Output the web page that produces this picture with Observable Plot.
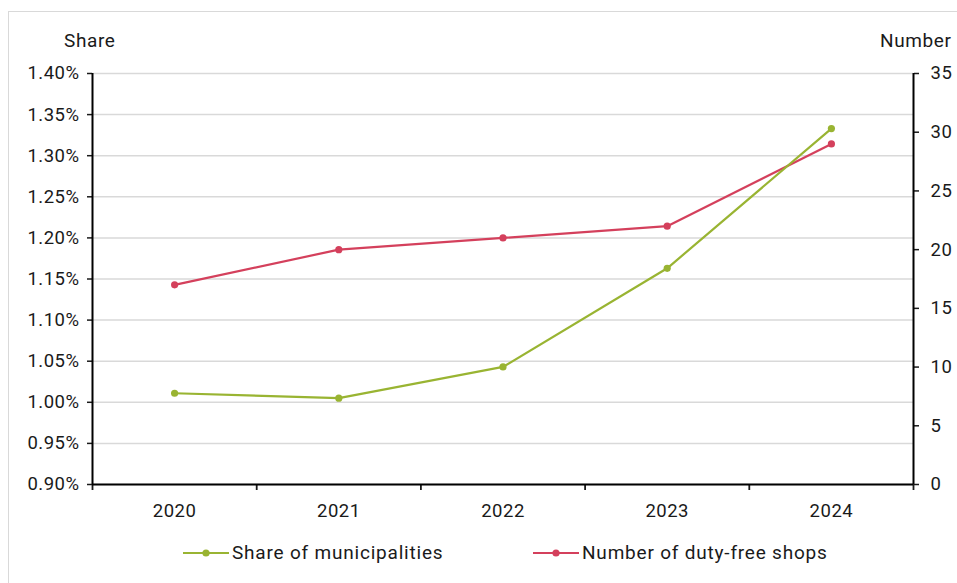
<!DOCTYPE html>
<html><head><meta charset="utf-8">
<script src="https://cdn.jsdelivr.net/npm/d3@7"></script>
<script src="https://cdn.jsdelivr.net/npm/@observablehq/plot@0.6"></script>
<style>
body{margin:0;background:#fff;font-family:Roboto,"Noto Sans",sans-serif;}
#wrap{position:relative;width:957px;height:583px;overflow:hidden;}
#frame{position:absolute;left:8px;top:11px;width:1000px;height:700px;border:1px solid #d9d9d9;box-sizing:border-box;}
#chart{position:absolute;left:0;top:0;}
.lab{position:absolute;top:29px;font-size:19px;letter-spacing:0.6px;color:#1a1a1a;}
#legend{position:absolute;top:541px;left:0;width:957px;height:24px;font-size:19px;letter-spacing:0.8px;color:#1a1a1a;}
.item{position:absolute;display:flex;align-items:center;}
svg text{letter-spacing:0.5px;}
</style></head>
<body><div id="wrap"><div id="frame"></div><div id="chart"></div>
<div class="lab" style="left:64px">Share</div>
<div class="lab" style="left:880px">Number</div>
<div id="legend"></div></div>
<script>
const years = [2020, 2021, 2022, 2023, 2024];
const shareValues = [1.011, 1.005, 1.043, 1.163, 1.333]; // percent
const shopCounts = [17, 20, 21, 22, 29];
const leftTicks = [0.90,0.95,1.00,1.05,1.10,1.15,1.20,1.25,1.30,1.35,1.40];
const rightTicks = [0,5,10,15,20,25,30,35];
const seriesNames = ["Share of municipalities", "Number of duty-free shops"];
const colors = ["#99b432", "#d4405c"];

const yMin = 0.90, yMax = 1.40, nMax = 35;
const toLeft = n => yMin + n / nMax * (yMax - yMin);

const shareData = years.map((y,i)=>({year:y, v:shareValues[i]}));
const shopData = years.map((y,i)=>({year:y, v:toLeft(shopCounts[i])}));
const bounds = [...years.map(y=>y-0.5), years[years.length-1]+0.5];

const chart = Plot.plot({
  width: 957, height: 522,
  marginTop: 73, marginLeft: 92, marginRight: 44, marginBottom: 38,
  style: {fontFamily: "Roboto, sans-serif", fontSize: "18.5px", color: "#1a1a1a", background: "transparent"},
  x: {domain: [years[0]-0.5, years[years.length-1]+0.5]},
  y: {domain: [yMin, yMax]},
  marks: [
    Plot.gridY(leftTicks, {stroke: "#d9d9d9", strokeOpacity: 1, strokeWidth: 1.5}),
    Plot.axisY(leftTicks, {anchor: "left", tickSize: 5, tickPadding: 8, tickFormat: d => d.toFixed(2) + "%", label: null, strokeWidth: 1.5, fontSize: 18.5}),
    Plot.axisY(rightTicks.map(toLeft), {anchor: "right", tickSize: 5, tickPadding: 12, tickFormat: v => String(Math.round((v - yMin)/(yMax-yMin)*nMax)), label: null, strokeWidth: 1.5, fontSize: 18.5}),
    Plot.axisX(years, {tickSize: 0, tickPadding: 19, tickFormat: d => String(d), label: null, fontSize: 18.5}),
    Plot.axisX(bounds, {tickSize: 6, tickFormat: () => "", label: null, strokeWidth: 1.8}),
    Plot.ruleX([years[0]-0.5], {stroke: "#000", strokeWidth: 2}),
    Plot.ruleX([years[years.length-1]+0.5], {stroke: "#000", strokeWidth: 2}),
    Plot.ruleY([yMin], {stroke: "#000", strokeWidth: 2}),
    Plot.line(shopData, {x: "year", y: "v", stroke: colors[1], strokeWidth: 2.2}),
    Plot.dot(shopData, {x: "year", y: "v", fill: colors[1], r: 3.6}),
    Plot.line(shareData, {x: "year", y: "v", stroke: colors[0], strokeWidth: 2.2}),
    Plot.dot(shareData, {x: "year", y: "v", fill: colors[0], r: 3.6})
  ]
});
document.getElementById("chart").appendChild(chart);

const legend = document.getElementById("legend");
const lefts = [183, 533];
seriesNames.forEach((name,i)=>{
  const d = document.createElement("div");
  d.className = "item";
  d.style.left = lefts[i] + "px";
  d.innerHTML = `<svg width="46" height="20" style="margin-right:3px"><line x1="0" x2="46" y1="10" y2="10" stroke="${colors[i]}" stroke-width="2.2"/><circle cx="23" cy="10" r="3.6" fill="${colors[i]}"/></svg><span>${name}</span>`;
  legend.appendChild(d);
});
</script></body></html>
